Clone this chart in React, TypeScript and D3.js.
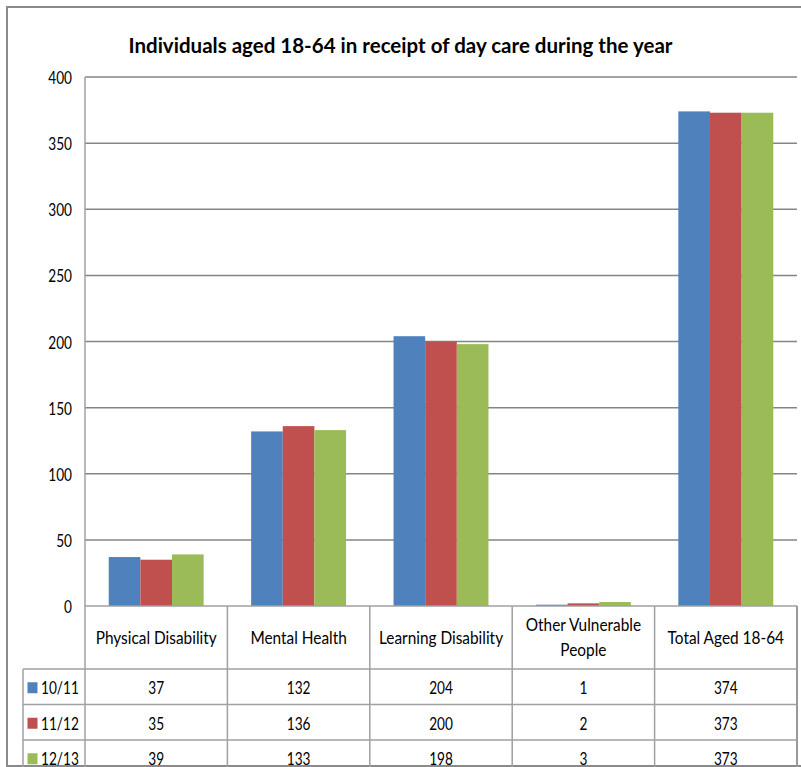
import React from "react";
import * as d3 from "d3";

// Chart data
const categories = [
  "Physical Disability",
  "Mental Health",
  "Learning Disability",
  "Other Vulnerable People",
  "Total Aged 18-64",
];
const seriesNames = ["10/11", "11/12", "12/13"];
const values1011 = [37, 132, 204, 1, 374];
const values1112 = [35, 136, 200, 2, 373];
const values1213 = [39, 133, 198, 3, 373];
const seriesValues = [values1011, values1112, values1213];
const seriesColors = ["#4F81BD", "#C0504D", "#9BBB59"];
const yTicks = [0, 50, 100, 150, 200, 250, 300, 350, 400];
const title = "Individuals aged 18-64 in receipt of day care during the year";

const W = 801;
const H = 767;
const FONT = "Lato, 'Open Sans', 'Liberation Sans', sans-serif";
const SX_WORD = 0.88; // horizontal squeeze for word labels
const SX_NUM = 0.78; // horizontal squeeze for numerals
const FS = 17.5;

const plot = { left: 85, right: 797, top: 77, bottom: 606 };
const rowH = 35.5;
const headerBottom = 669;
const legendLeft = 23;

function Label({ x, y, text, anchor = "middle", size = FS, sx = SX_WORD }: any) {
  return (
    <g transform={`translate(${x},${y})`}>
      <text
        transform={`scale(${sx},1)`}
        textAnchor={anchor}
        fontFamily={FONT}
        fontSize={size}
        fill="#000"
      >
        {text}
      </text>
    </g>
  );
}

function wrap(label: string): string[] {
  if (label.length <= 20) return [label];
  const words = label.split(" ");
  return [words.slice(0, -1).join(" "), words[words.length - 1]];
}

export default function App() {
  const x = d3.scaleBand<string>().domain(categories).range([plot.left, plot.right]);
  const inner = d3
    .scaleBand<string>()
    .domain(seriesNames)
    .range([0, x.bandwidth()])
    .paddingInner(0)
    .paddingOuter(0.75);
  const y = d3.scaleLinear().domain([0, 400]).range([plot.bottom, plot.top]);

  const rowTops = seriesNames.map((_, i) => headerBottom + i * rowH);
  const tableBottom = headerBottom + seriesNames.length * rowH;
  const gridColor = "#858585";
  const tableColor = "#a0a0a0";

  return (
    <svg
      width={W}
      height={H}
      style={{ position: "absolute", left: 0, top: 0, background: "#fff" }}
    >
      <rect x={0} y={0} width={W} height={H} fill="#fff" />
      {/* outer chart frame */}
      <rect x={7} y={7} width={820} height={759} fill="none" stroke="#8a8a8a" strokeWidth={2} />

      {/* title */}
      <text
        x={W / 2}
        y={53}
        textAnchor="middle"
        fontFamily={FONT}
        fontSize={21.5}
        fontWeight={700}
        textLength={544}
        lengthAdjust="spacingAndGlyphs"
        fill="#000"
      >
        {title}
      </text>

      {/* gridlines */}
      {yTicks
        .filter((t) => t > 0)
        .map((t) => (
          <line
            key={t}
            x1={plot.left}
            x2={plot.right}
            y1={y(t)}
            y2={y(t)}
            stroke={gridColor}
            strokeWidth={1.5}
          />
        ))}

      {/* y tick labels */}
      {yTicks.map((t) => (
        <Label key={t} x={72} y={y(t) + 7} text={String(t)} anchor="end" sx={SX_NUM} />
      ))}

      {/* bars */}
      {categories.map((c, ci) =>
        seriesNames.map((s, si) => {
          const v = seriesValues[si][ci];
          return (
            <rect
              key={c + s}
              x={(x(c) as number) + (inner(s) as number)}
              y={y(v)}
              width={inner.bandwidth()}
              height={y(0) - y(v)}
              fill={seriesColors[si]}
            />
          );
        })
      )}

      {/* value axis line */}
      <line x1={plot.left} x2={plot.left} y1={plot.top} y2={plot.bottom} stroke={tableColor} strokeWidth={1.5} />

      {/* data table: header row */}
      <line x1={plot.left} x2={plot.right} y1={plot.bottom} y2={plot.bottom} stroke={tableColor} strokeWidth={1.5} />
      {categories.map((c) => (
        <line
          key={"v" + c}
          x1={x(c) as number}
          x2={x(c) as number}
          y1={plot.bottom}
          y2={tableBottom}
          stroke={tableColor}
          strokeWidth={1.5}
        />
      ))}
      <line x1={plot.right} x2={plot.right} y1={plot.bottom} y2={tableBottom} stroke="#999" strokeWidth={2} />
      {categories.map((c) => {
        const lines = wrap(c);
        const cx = (x(c) as number) + x.bandwidth() / 2;
        const mid = (plot.bottom + headerBottom) / 2 + 6;
        const lh = 25.5;
        return lines.map((ln, li) => (
          <Label
            key={c + li}
            x={cx}
            y={mid + (li - (lines.length - 1) / 2) * lh}
            text={ln}
          />
        ));
      })}

      {/* data table: series rows */}
      {rowTops.map((top, i) => (
        <line
          key={"h" + i}
          x1={legendLeft}
          x2={plot.right}
          y1={top}
          y2={top}
          stroke={tableColor}
          strokeWidth={1.5}
        />
      ))}
      <line x1={legendLeft} x2={plot.right} y1={tableBottom} y2={tableBottom} stroke={tableColor} strokeWidth={1.5} />
      <line x1={legendLeft} x2={legendLeft} y1={headerBottom} y2={tableBottom} stroke={tableColor} strokeWidth={1.5} />

      {seriesNames.map((s, si) => {
        const cy = rowTops[si] + rowH / 2;
        return (
          <g key={"row" + s}>
            <rect x={27.5} y={cy - 4.5} width={10} height={11} fill={seriesColors[si]} />
            <Label x={41} y={cy + 7.5} text={s} anchor="start" sx={SX_NUM} />
            {categories.map((c, ci) => (
              <Label
                key={c}
                x={(x(c) as number) + x.bandwidth() / 2}
                y={cy + 7.5}
                text={String(seriesValues[si][ci])}
                sx={SX_NUM}
              />
            ))}
          </g>
        );
      })}
    </svg>
  );
}
